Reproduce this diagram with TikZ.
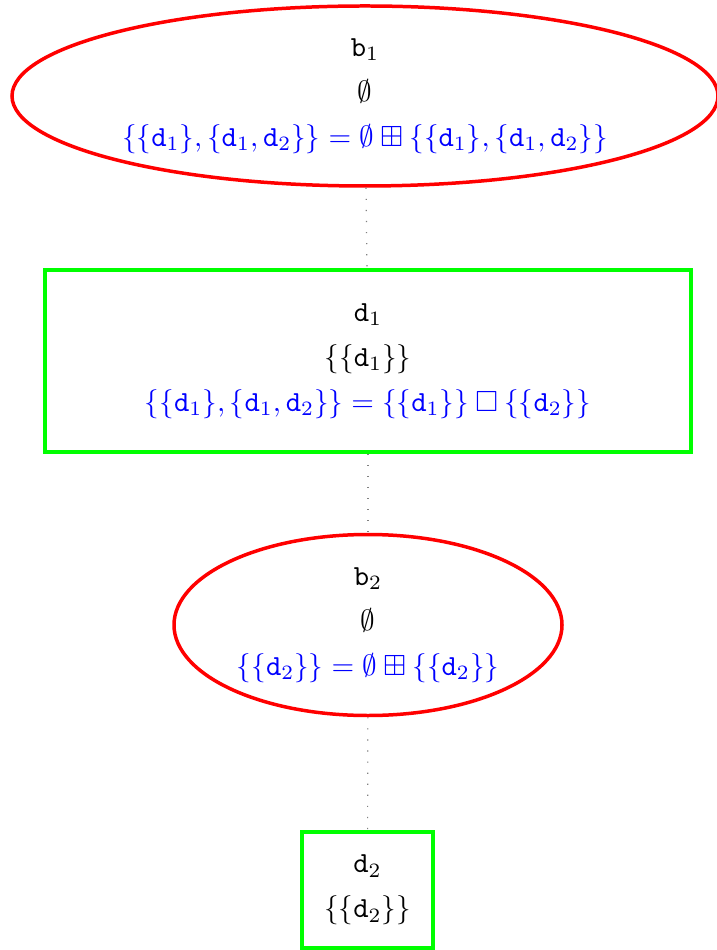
\documentclass[tikz,border=0pt]{standalone}
\usepackage{amssymb}
\usetikzlibrary{shapes.geometric}
\newcommand\pxu{0.3433pt}
\tikzset{
  ellbox/.style={ellipse, draw=red, line width=1.2pt, inner sep=0pt, align=center, font=\fontsize{10}{15.4}\selectfont},
  recbox/.style={rectangle, draw=green, line width=1.2pt, inner sep=0pt, align=center, font=\fontsize{10}{15.4}\selectfont},
  link/.style={draw=gray, line width=0.4pt, dash pattern=on 0.4pt off 3.4pt}
}
\begin{document}
\begin{tikzpicture}[x=\pxu, y=-\pxu]
\useasboundingbox (0,0) rectangle (716,950);
\node[ellbox, minimum width=706*\pxu, minimum height=180*\pxu] (b1) at (365,96)
  {$\mathtt{b}_1$\\ $\emptyset$\\ \color{blue}$\{\{\mathtt{d}_1\},\{\mathtt{d}_1,\mathtt{d}_2\}\}=\emptyset\boxplus\{\{\mathtt{d}_1\},\{\mathtt{d}_1,\mathtt{d}_2\}\}$};
\node[recbox, minimum width=646*\pxu, minimum height=182*\pxu] (d1) at (368,361)
  {$\mathtt{d}_1$\\ $\{\{\mathtt{d}_1\}\}$\\ \color{blue}$\{\{\mathtt{d}_1\},\{\mathtt{d}_1,\mathtt{d}_2\}\}=\{\{\mathtt{d}_1\}\}\mathbin{\square}\{\{\mathtt{d}_2\}\}$};
\node[ellbox, minimum width=388*\pxu, minimum height=181*\pxu] (b2) at (368,625)
  {$\mathtt{b}_2$\\ $\emptyset$\\ \color{blue}$\{\{\mathtt{d}_2\}\}=\emptyset\boxplus\{\{\mathtt{d}_2\}\}$};
\node[recbox, minimum width=131*\pxu, minimum height=116*\pxu] (d2) at (367.5,890)
  {$\mathtt{d}_2$\\ $\{\{\mathtt{d}_2\}\}$};
\draw[link] (b1) -- (d1);
\draw[link] (d1) -- (b2);
\draw[link] (b2) -- (d2);
\end{tikzpicture}
\end{document}
